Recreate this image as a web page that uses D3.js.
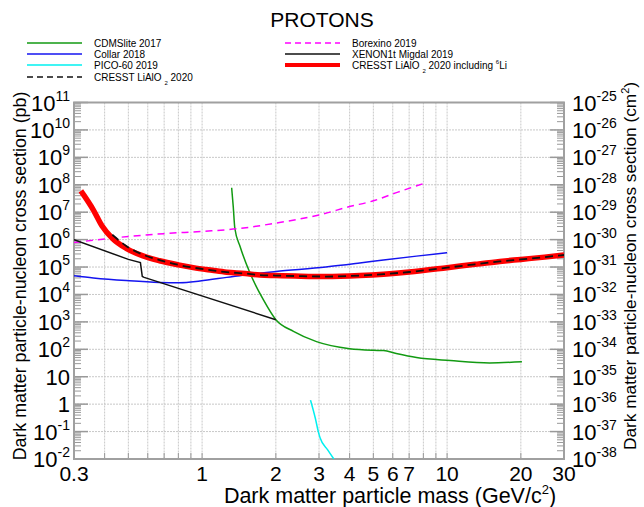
<!DOCTYPE html>
<html>
<head>
<meta charset="utf-8">
<script src="https://cdn.jsdelivr.net/npm/d3@7"></script>
<style>
body { margin: 0; background: #fff; }
svg { font-family: "Liberation Sans", Arial, sans-serif; }
</style>
</head>
<body>
<svg id="chart" width="644" height="507"></svg>
<script>
// values: mass in GeV/c^2, cross section in pb
var cdmsMass  = [1.32, 1.34, 1.36, 1.43, 1.57, 1.78, 2.0, 2.36, 2.93, 4.0, 5.0, 5.5, 6.2, 7.5, 10.3, 14.9, 20.2]
var cdmsSigma = [7.8e7, 1.6e7, 2.6e6, 5.5e5, 5.9e4, 6.3e3, 1.2e3, 450, 190, 105, 92, 90, 70, 50, 39, 32, 35]

var collarMass  = [0.3, 0.36, 0.49, 0.67, 0.81, 0.98, 1.26, 1.57, 2.0, 3.2, 4.4, 5.5, 7.5, 10]
var collarSigma = [4.8e4, 4.0e4, 3.2e4, 2.75e4, 2.7e4, 3.1e4, 4.2e4, 5.5e4, 6.9e4, 1.0e5, 1.4e5, 1.8e5, 2.5e5, 3.3e5]

var picoMass  = [2.77, 2.9, 2.98, 3.03, 3.25, 3.45]
var picoSigma = [1.4, 0.3, 0.1, 0.06, 0.022, 0.01]

var borexMass  = [0.3, 0.5, 0.7, 1, 1.4, 2, 3, 4, 5, 6.3, 8]
var borexSigma = [7.8e5, 1.3e6, 1.65e6, 2.0e6, 2.5e6, 4.0e6, 7.9e6, 1.6e7, 2.6e7, 5.4e7, 1.1e8]

var xenonMass  = [0.3, 0.5, 0.56, 0.57, 0.58, 2.0]
var xenonSigma = [1.0e6, 1.9e5, 1.45e5, 4.5e4, 4.2e4, 1.2e3]

var cresstMass  = [0.43, 0.49, 0.57, 0.67, 0.8, 0.92, 1.1, 1.26, 1.5, 1.72, 2, 2.4, 3.2, 4.4, 5.5, 7, 10, 13, 16.4, 20, 25, 30]
var cresstSigma = [1.5e6, 5.9e5, 2.9e5, 1.8e5, 1.2e5, 9.5e4, 7.6e4, 6.5e4, 5.8e4, 5.1e4, 4.9e4, 4.7e4, 4.5e4, 4.9e4, 5.5e4, 6.6e4, 9.5e4, 1.26e5, 1.6e5, 1.9e5, 2.3e5, 2.75e5]

var liMass  = [0.32, 0.36, 0.39, 0.43, 0.49, 0.57, 0.67, 0.8, 0.92, 1.1, 1.26, 1.5, 1.72, 2, 2.4, 3.2, 4.4, 5.5, 7, 10, 13, 16.4, 20, 25, 30]
var liSigma = [6.0e7, 1.2e7, 3.2e6, 1.12e6, 4.8e5, 2.6e5, 1.7e5, 1.2e5, 9.5e4, 7.6e4, 6.5e4, 5.8e4, 5.1e4, 4.9e4, 4.7e4, 4.5e4, 4.9e4, 5.5e4, 6.6e4, 9.5e4, 1.26e5, 1.6e5, 1.9e5, 2.3e5, 2.75e5]

var xTicks = [0.3, 1, 2, 3, 4, 5, 6, 7, 10, 20, 30]
var xGrid = [0.4, 0.5, 0.6, 0.7, 0.8, 0.9, 1, 2, 3, 4, 5, 6, 7, 8, 9, 10, 20]
var yExpLeft = d3.range(11, -3, -1)       // pb
var yExpRight = d3.range(-25, -39, -1)    // cm^2, 1 pb = 1e-36 cm^2

var svg = d3.select("#chart")
var pLeft = 74, pRight = 564, pTop = 102.5, pBottom = 459

var x = d3.scaleLog().domain([0.3, 30]).range([pLeft, pRight])
var y = d3.scaleLog().domain([1e-2, 1e11]).range([pBottom, pTop])

svg.append("text").attr("x", 322).attr("y", 27).attr("text-anchor", "middle")
	.attr("font-size", 21).text("PROTONS")

//grid
var grid = svg.append("g")
grid.selectAll("line.v").data(xGrid).enter().append("line")
	.attr("x1", d => x(d)).attr("x2", d => x(d))
	.attr("y1", pTop).attr("y2", pBottom)
	.attr("stroke", "#c8c8c8").attr("stroke-dasharray", "2,1")
grid.selectAll("line.h").data(yExpLeft.slice(1, -1)).enter().append("line")
	.attr("x1", pLeft).attr("x2", pRight)
	.attr("y1", d => y(Math.pow(10, d))).attr("y2", d => y(Math.pow(10, d)))
	.attr("stroke", "#c8c8c8").attr("stroke-dasharray", "2,1")

//minor and major ticks on y
var minor = []
yExpLeft.forEach(function(e) {
	if (e == 11) return
	for (var k = 2; k < 10; k++) minor.push(k * Math.pow(10, e))
})
var tk = svg.append("g").attr("stroke", "#999")
tk.selectAll("line.ml").data(minor).enter().append("line")
	.attr("x1", pLeft).attr("x2", pLeft + 7).attr("y1", d => y(d)).attr("y2", d => y(d))
tk.selectAll("line.mr").data(minor).enter().append("line")
	.attr("x1", pRight - 7).attr("x2", pRight).attr("y1", d => y(d)).attr("y2", d => y(d))
tk.selectAll("line.Ml").data(yExpLeft).enter().append("line")
	.attr("x1", pLeft).attr("x2", pLeft + 14).attr("stroke-width", 1.5)
	.attr("y1", d => y(Math.pow(10, d))).attr("y2", d => y(Math.pow(10, d)))
tk.selectAll("line.Mr").data(yExpLeft).enter().append("line")
	.attr("x1", pRight - 14).attr("x2", pRight).attr("stroke-width", 1.5)
	.attr("y1", d => y(Math.pow(10, d))).attr("y2", d => y(Math.pow(10, d)))
tk.selectAll("line.xt").data(xGrid).enter().append("line")
	.attr("x1", d => x(d)).attr("x2", d => x(d)).attr("y1", pBottom).attr("y2", pBottom - 6)

svg.append("rect").attr("x", pLeft).attr("y", pTop).attr("width", pRight - pLeft).attr("height", pBottom - pTop)
	.attr("fill", "none").attr("stroke", "#a0a0a0").attr("stroke-width", 2)

//tick labels
var yl = svg.append("g").attr("font-size", 22).attr("text-anchor", "end")
yExpLeft.forEach(function(e) {
	var t = yl.append("text").attr("x", 70).attr("y", y(Math.pow(10, e)) + 8)
	if (e == 0) { t.text("1"); return }
	if (e == 1) { t.text("10"); return }
	t.append("tspan").text("10")
	t.append("tspan").attr("font-size", 14).attr("dy", -10).text(e)
})
var yr = svg.append("g").attr("font-size", 22)
yExpRight.forEach(function(e, i) {
	var t = yr.append("text").attr("x", 572).attr("y", y(Math.pow(10, yExpLeft[i])) + 8)
	t.append("tspan").text("10")
	t.append("tspan").attr("font-size", 14).attr("dy", -10).text(e)
})
svg.append("g").attr("font-size", 21).attr("text-anchor", "middle")
	.selectAll("text").data(xTicks).enter().append("text")
	.attr("x", d => x(d)).attr("y", 481).text(d => d)

//axis titles
var xt = svg.append("text").attr("x", 390).attr("y", 503).attr("text-anchor", "middle").attr("font-size", 21.5)
xt.append("tspan").text("Dark matter particle mass (GeV/c")
xt.append("tspan").attr("font-size", 13).attr("dy", -9).text("2")
xt.append("tspan").attr("dy", 9).text(")")
svg.append("text").attr("transform", "translate(26,276) rotate(-90)").attr("text-anchor", "middle")
	.attr("font-size", 17.8).text("Dark matter particle-nucleon cross section (pb)")
var rt = svg.append("text").attr("transform", "translate(636,266) rotate(-90)").attr("text-anchor", "middle").attr("font-size", 17.3)
rt.append("tspan").text("Dark matter particle-nucleon cross section (cm")
rt.append("tspan").attr("font-size", 11).attr("dy", -7).text("2")
rt.append("tspan").attr("dy", 7).text(")")

//curves
svg.append("clipPath").attr("id", "clip").append("rect")
	.attr("x", pLeft).attr("y", pTop).attr("width", pRight - pLeft).attr("height", pBottom - pTop)
var plot = svg.append("g").attr("clip-path", "url(#clip)")

function pts(m, s) { return m.map((d, i) => [d, s[i]]) }
var smooth = d3.line().x(d => x(d[0])).y(d => y(d[1])).curve(d3.curveMonotoneX)
var straight = d3.line().x(d => x(d[0])).y(d => y(d[1]))

var series = [
	{name: "CDMSlite 2017", data: pts(cdmsMass, cdmsSigma), color: "#129a12", w: 1.5, dash: null, line: smooth},
	{name: "Collar 2018", data: pts(collarMass, collarSigma), color: "#1414f0", w: 1.5, dash: null, line: smooth},
	{name: "PICO-60 2019", data: pts(picoMass, picoSigma), color: "#00f0f0", w: 1.5, dash: null, line: smooth},
	{name: "Borexino 2019", data: pts(borexMass, borexSigma), color: "#ff00ff", w: 1.5, dash: "7,5", line: smooth},
	{name: "XENON1t Migdal 2019", data: pts(xenonMass, xenonSigma), color: "#111", w: 1.5, dash: null, line: straight},
	{name: "CRESST 6Li", data: pts(liMass, liSigma), color: "#ff0000", w: 5.5, dash: null, line: smooth},
	{name: "CRESST LiAlO2 2020", data: pts(cresstMass, cresstSigma), color: "#111", w: 1.8, dash: "8,5", line: smooth}
]
series.forEach(function(s) {
	plot.append("path").attr("d", s.line(s.data)).attr("fill", "none")
		.attr("stroke", s.color).attr("stroke-width", s.w).attr("stroke-dasharray", s.dash)
})

//legend
var leg = [
	{x: 27, y: 43, s: 0, label: ["CDMSlite 2017"]},
	{x: 27, y: 54, s: 1, label: ["Collar 2018"]},
	{x: 27, y: 65, s: 2, label: ["PICO-60 2019"]},
	{x: 27, y: 77, s: 6, label: ["CRESST LiAlO", "2", " 2020"]},
	{x: 285, y: 43, s: 3, label: ["Borexino 2019"]},
	{x: 285, y: 54, s: 4, label: ["XENON1t Migdal 2019"]},
	{x: 285, y: 65, s: 5, label: ["CRESST LiAlO", "2", " 2020 including  ", "6", "Li"]}
]
leg.forEach(function(l) {
	var s = series[l.s]
	svg.append("line").attr("x1", l.x).attr("x2", l.x + 55).attr("y1", l.y).attr("y2", l.y)
		.attr("stroke", s.color).attr("stroke-width", s.w > 3 ? 4 : 1.5)
		.attr("stroke-dasharray", s.dash ? "6,4" : null)
	var t = svg.append("text").attr("x", l.x + 67).attr("y", l.y + 3.5).attr("font-size", 10)
	t.append("tspan").text(l.label[0])
	if (l.label.length > 1) {
		t.append("tspan").text(" ")
		t.append("tspan").attr("font-size", 6).attr("dy", 4).text(l.label[1])
		t.append("tspan").attr("dy", -4).text(l.label[2])
	}
	if (l.label.length > 3) {
		t.append("tspan").attr("font-size", 6).attr("dy", -5).text(l.label[3])
		t.append("tspan").attr("dy", 5).text(l.label[4])
	}
})
</script>
</body>
</html>
